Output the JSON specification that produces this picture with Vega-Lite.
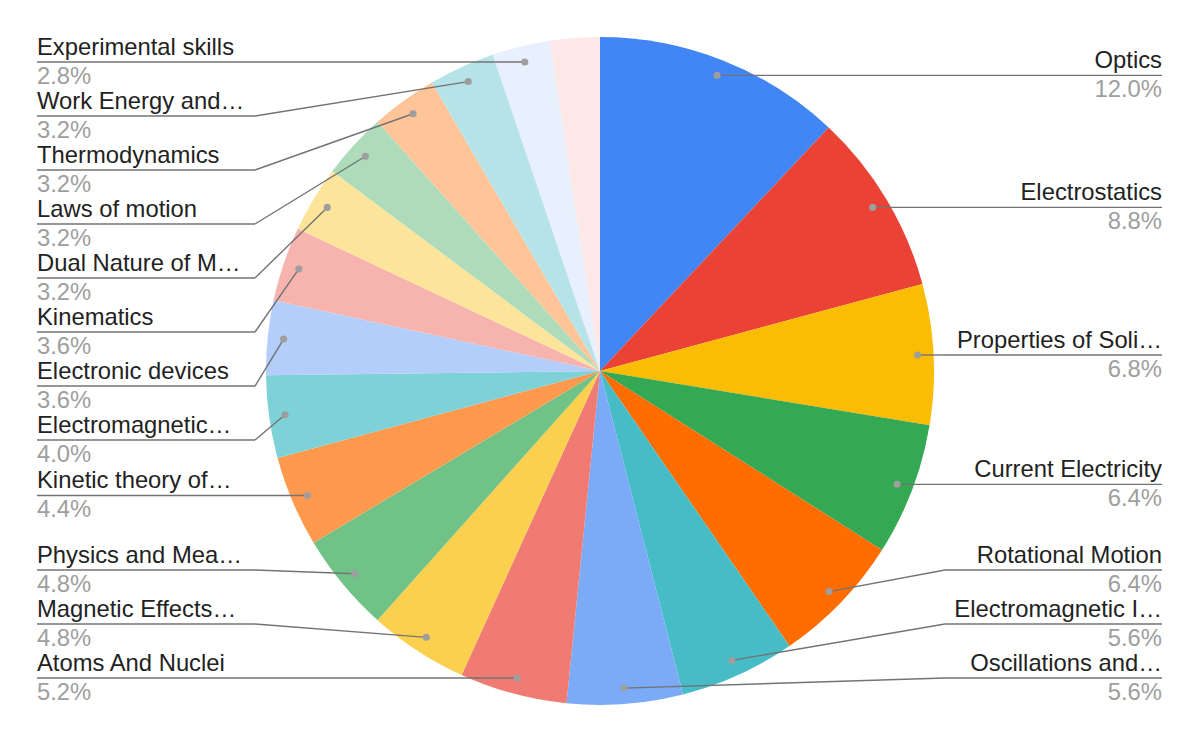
{
  "$schema": "https://vega.github.io/schema/vega-lite/v6.json",
  "width": 1200,
  "height": 742,
  "autosize": {"type": "none"},
  "padding": 0,
  "background": "white",
  "config": {"view": {"stroke": null}, "font": "Liberation Sans"},
  "data": {
    "values": [
      {"topic": "Optics", "n": 30},
      {"topic": "Electrostatics", "n": 22},
      {"topic": "Properties of Soli…", "n": 17},
      {"topic": "Current Electricity", "n": 16},
      {"topic": "Rotational Motion", "n": 16},
      {"topic": "Electromagnetic I…", "n": 14},
      {"topic": "Oscillations and…", "n": 14},
      {"topic": "Atoms And Nuclei", "n": 13},
      {"topic": "Magnetic Effects…", "n": 12},
      {"topic": "Physics and Mea…", "n": 12},
      {"topic": "Kinetic theory of…", "n": 11},
      {"topic": "Electromagnetic…", "n": 10},
      {"topic": "Electronic devices", "n": 9},
      {"topic": "Kinematics", "n": 9},
      {"topic": "Dual Nature of M…", "n": 8},
      {"topic": "Laws of motion", "n": 8},
      {"topic": "Thermodynamics", "n": 8},
      {"topic": "Work Energy and…", "n": 8},
      {"topic": "Experimental skills", "n": 7},
      {"topic": "Other", "n": 6}
    ]
  },
  "transform": [
    {"window": [{"op": "row_number", "as": "idx"}]},
    {"window": [{"op": "sum", "field": "n", "as": "cum"}], "sort": [{"field": "idx"}], "frame": [null, 0]},
    {"joinaggregate": [{"op": "sum", "field": "n", "as": "total"}]},
    {"calculate": "2*PI*(datum.cum - datum.n/2)/datum.total", "as": "mid"},
    {"calculate": "600 + 318*sin(datum.mid)", "as": "dotx"},
    {"calculate": "371 - 318*cos(datum.mid)", "as": "doty"},
    {"calculate": "datum.mid < PI ? 'R' : 'L'", "as": "side"},
    {"calculate": "format(datum.n/datum.total, '.1%')", "as": "pct"}
  ],
  "layer": [
    {
      "mark": {"type": "arc", "outerRadius": 334},
      "encoding": {
        "theta": {"field": "n", "type": "quantitative", "stack": true},
        "order": {"field": "idx", "type": "quantitative"},
        "color": {
          "field": "topic",
          "type": "nominal",
          "legend": null,
          "scale": {
            "domain": ["Optics", "Electrostatics", "Properties of Soli…", "Current Electricity", "Rotational Motion", "Electromagnetic I…", "Oscillations and…", "Atoms And Nuclei", "Magnetic Effects…", "Physics and Mea…", "Kinetic theory of…", "Electromagnetic…", "Electronic devices", "Kinematics", "Dual Nature of M…", "Laws of motion", "Thermodynamics", "Work Energy and…", "Experimental skills", "Other"],
            "range": ["#4285F4", "#EA4335", "#FBBC04", "#34A853", "#FF6D01", "#46BDC6", "#7BAAF7", "#F07B72", "#FCD04F", "#71C287", "#FF994D", "#7ED1D7", "#B3CEFB", "#F7B4AE", "#FDE49B", "#AEDCBA", "#FFC599", "#B5E3E8", "#E8F0FE", "#FCE8E6"]
          }
        }
      }
    },
    {
      "transform": [
        {"filter": "datum.topic !== 'Other'"},
        {"window": [{"op": "row_number", "as": "k"}], "groupby": ["side"], "sort": [{"field": "doty"}]},
        {"calculate": "datum.doty - datum.k*54", "as": "a"},
        {"window": [{"op": "max", "field": "a", "as": "amax"}], "groupby": ["side"], "sort": [{"field": "doty"}], "frame": [null, 0]},
        {"calculate": "min(max(datum.amax + datum.k*54, 50 + (datum.k-1)*54), 678)", "as": "y1"},
        {"calculate": "datum.y1 - datum.k*54", "as": "b"},
        {"window": [{"op": "min", "field": "b", "as": "bmin"}], "groupby": ["side"], "sort": [{"field": "doty"}], "frame": [0, null]},
        {"calculate": "datum.bmin + datum.k*54", "as": "ly"},
        {"calculate": "datum.side === 'R' ? 945 : 255", "as": "ex"},
        {"calculate": "datum.side === 'R' ? 1162 : 37", "as": "tx"}
      ],
      "layer": [
        {
          "mark": {"type": "rule", "color": "#737373", "strokeWidth": 1.4},
          "encoding": {
            "x": {"field": "dotx", "type": "quantitative", "axis": null, "scale": {"domain": [0, 1200], "nice": false, "zero": false}},
            "y": {"field": "doty", "type": "quantitative", "axis": null, "scale": {"domain": [0, 742], "nice": false, "zero": false, "reverse": true}},
            "x2": {"field": "ex"},
            "y2": {"field": "ly"}
          }
        },
        {
          "mark": {"type": "rule", "color": "#737373", "strokeWidth": 1.4},
          "encoding": {
            "x": {"field": "ex", "type": "quantitative", "axis": null, "scale": {"domain": [0, 1200], "nice": false, "zero": false}},
            "y": {"field": "ly", "type": "quantitative", "axis": null, "scale": {"domain": [0, 742], "nice": false, "zero": false, "reverse": true}},
            "x2": {"field": "tx"}
          }
        },
        {
          "mark": {"type": "point", "filled": true, "size": 50, "color": "#9e9e9e", "opacity": 1},
          "encoding": {
            "x": {"field": "dotx", "type": "quantitative", "axis": null, "scale": {"domain": [0, 1200], "nice": false, "zero": false}},
            "y": {"field": "doty", "type": "quantitative", "axis": null, "scale": {"domain": [0, 742], "nice": false, "zero": false, "reverse": true}}
          }
        },
        {
          "transform": [{"filter": "datum.side === 'L'"}],
          "mark": {"type": "text", "align": "left", "baseline": "alphabetic", "dy": -7, "fontSize": 23.8, "color": "#222222"},
          "encoding": {
            "x": {"field": "tx", "type": "quantitative", "axis": null, "scale": {"domain": [0, 1200], "nice": false, "zero": false}},
            "y": {"field": "ly", "type": "quantitative", "axis": null, "scale": {"domain": [0, 742], "nice": false, "zero": false, "reverse": true}},
            "text": {"field": "topic"}
          }
        },
        {
          "transform": [{"filter": "datum.side === 'R'"}],
          "mark": {"type": "text", "align": "right", "baseline": "alphabetic", "dy": -7, "fontSize": 23.8, "color": "#222222"},
          "encoding": {
            "x": {"field": "tx", "type": "quantitative", "axis": null, "scale": {"domain": [0, 1200], "nice": false, "zero": false}},
            "y": {"field": "ly", "type": "quantitative", "axis": null, "scale": {"domain": [0, 742], "nice": false, "zero": false, "reverse": true}},
            "text": {"field": "topic"}
          }
        },
        {
          "transform": [{"filter": "datum.side === 'L'"}],
          "mark": {"type": "text", "align": "left", "baseline": "alphabetic", "dy": 22, "fontSize": 23.8, "color": "#9e9e9e"},
          "encoding": {
            "x": {"field": "tx", "type": "quantitative", "axis": null, "scale": {"domain": [0, 1200], "nice": false, "zero": false}},
            "y": {"field": "ly", "type": "quantitative", "axis": null, "scale": {"domain": [0, 742], "nice": false, "zero": false, "reverse": true}},
            "text": {"field": "pct"}
          }
        },
        {
          "transform": [{"filter": "datum.side === 'R'"}],
          "mark": {"type": "text", "align": "right", "baseline": "alphabetic", "dy": 22, "fontSize": 23.8, "color": "#9e9e9e"},
          "encoding": {
            "x": {"field": "tx", "type": "quantitative", "axis": null, "scale": {"domain": [0, 1200], "nice": false, "zero": false}},
            "y": {"field": "ly", "type": "quantitative", "axis": null, "scale": {"domain": [0, 742], "nice": false, "zero": false, "reverse": true}},
            "text": {"field": "pct"}
          }
        }
      ]
    }
  ]
}
